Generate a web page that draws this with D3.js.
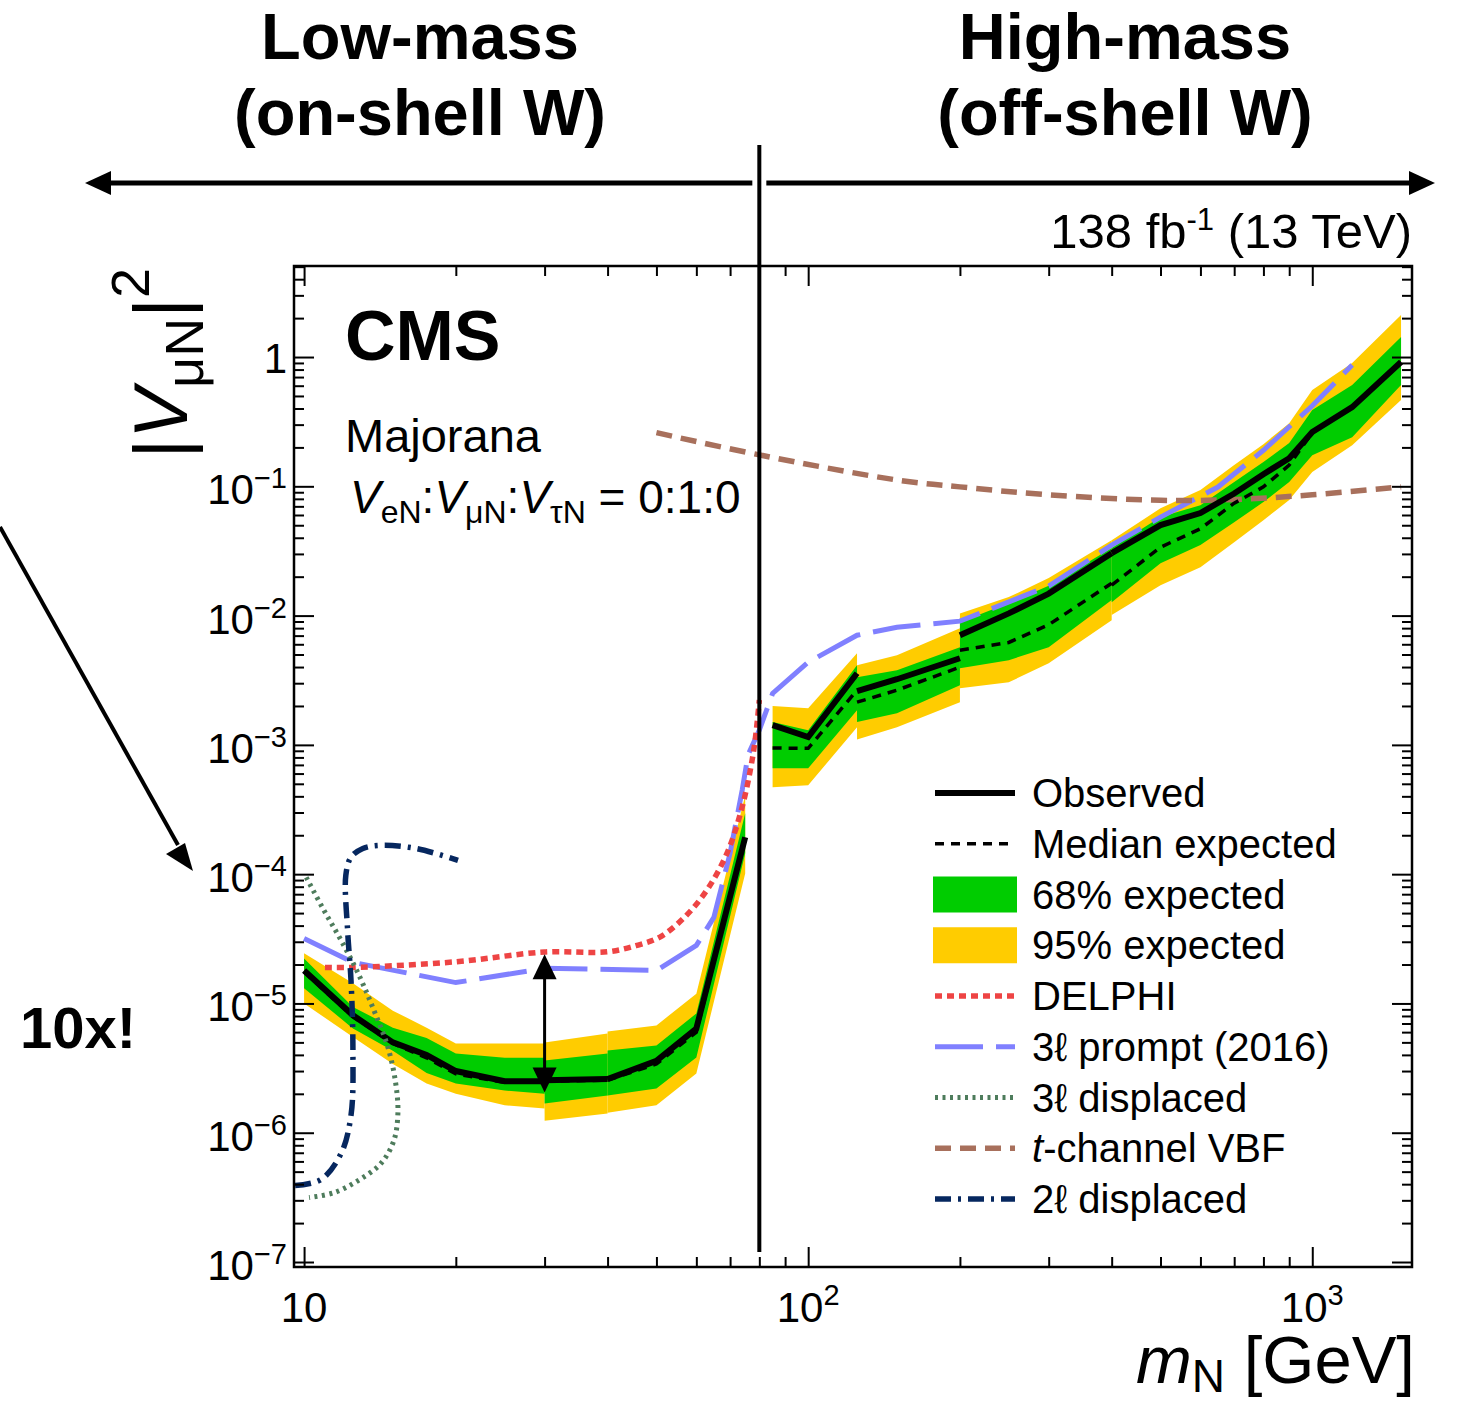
<!DOCTYPE html>
<html>
<head>
<meta charset="utf-8">
<script src="https://cdn.jsdelivr.net/npm/d3@7"></script>
<style>
  body { margin: 0; background: #fff; }
  svg { display: block; font-family: "Liberation Sans", Arial, Helvetica, sans-serif; }
</style>
</head>
<body>
<script>
// mass points of each limit segment (GeV); the bands break where the selection changes
var segMass = [
  [10, 12.5, 15, 17.5, 20, 25, 30],
  [30, 40],
  [40, 50, 60, 75],
  [85, 100, 125],
  [125, 150, 200],
  [200, 250, 300, 400],
  [400, 500, 600, 700, 800, 900, 1000, 1200, 1500]
];
var observed = [
  [1.8e-5, 8.1e-6, 5.0e-6, 4.0e-6, 3.0e-6, 2.5e-6, 2.5e-6],
  [2.55e-6, 2.6e-6],
  [2.6e-6, 3.6e-6, 6.4e-6, 1.93e-4],
  [1.42e-3, 1.15e-3, 3.58e-3],
  [2.6e-3, 3.22e-3, 4.68e-3],
  [7.05e-3, 1.04e-2, 1.48e-2, 3.04e-2],
  [3.04e-2, 5.01e-2, 6.21e-2, 0.088, 0.124, 0.165, 0.263, 0.41, 0.915]
];
var expected = [
  [1.75e-5, 7.9e-6, 4.9e-6, 3.8e-6, 2.85e-6, 2.45e-6, 2.5e-6],
  [2.5e-6, 2.55e-6],
  [2.55e-6, 3.4e-6, 6.0e-6, 1.9e-4],
  [9.46e-4, 9.4e-4, 2.65e-3],
  [2.14e-3, 2.65e-3, 3.99e-3],
  [5.4e-3, 6.2e-3, 8.5e-3, 1.78e-2],
  [1.72e-2, 3.38e-2, 4.7e-2, 0.074, 0.099, 0.146, 0.26, 0.41, 0.915]
];
var band68Hi = [
  [2.23e-5, 9.4e-6, 6.5e-6, 5.4e-6, 4.1e-6, 3.8e-6, 3.8e-6],
  [3.62e-6, 4.1e-6],
  [4.33e-6, 4.73e-6, 8.37e-6, 2.96e-4],
  [1.5e-3, 1.3e-3, 4.13e-3],
  [3.34e-3, 3.78e-3, 5.69e-3],
  [8.9e-3, 1.25e-2, 1.7e-2, 3.33e-2],
  [3.33e-2, 5.78e-2, 7.15e-2, 0.108, 0.154, 0.216, 0.389, 0.607, 1.43]
];
var band68Lo = [
  [1.31e-5, 6.4e-6, 4.3e-6, 2.9e-6, 2.4e-6, 2.12e-6, 2.0e-6],
  [1.68e-6, 1.94e-6],
  [1.94e-6, 2.2e-6, 3.82e-6, 1.45e-4],
  [6.59e-4, 6.59e-4, 1.85e-3],
  [1.5e-3, 1.76e-3, 2.89e-3],
  [3.92e-3, 4.52e-3, 5.69e-3, 1.32e-2],
  [1.27e-2, 2.54e-2, 3.51e-2, 0.0528, 0.0755, 0.108, 0.174, 0.24, 0.607]
];
var band95Hi = [
  [2.44e-5, 1.43e-5, 8.8e-6, 6.5e-6, 4.9e-6, 4.9e-6, 4.9e-6],
  [4.99e-6, 5.86e-6],
  [6.07e-6, 6.76e-6, 1.19e-5, 4.07e-4],
  [2.0e-3, 1.92e-3, 5.12e-3],
  [4.13e-3, 4.93e-3, 7.98e-3],
  [1.04e-2, 1.39e-2, 1.95e-2, 3.83e-2],
  [3.83e-2, 6.78e-2, 9.35e-2, 0.146, 0.212, 0.308, 0.556, 0.899, 2.11]
];
var band95Lo = [
  [1.0e-5, 5.5e-6, 3.4e-6, 2.4e-6, 2.0e-6, 1.63e-6, 1.54e-6],
  [1.24e-6, 1.41e-6],
  [1.43e-6, 1.63e-6, 2.87e-6, 1.01e-4],
  [4.7e-4, 4.87e-4, 1.37e-3],
  [1.1e-3, 1.37e-3, 2.14e-3],
  [2.74e-3, 3.05e-3, 4.28e-3, 9.2e-3],
  [1.01e-2, 1.72e-2, 2.37e-2, 0.037, 0.0547, 0.0782, 0.129, 0.208, 0.465]
];

// other searches
var delphiMass = [11, 12.5, 20, 30, 40, 46, 51, 57, 63, 69, 74, 78, 80];
var delphiVal  = [1.9e-5, 1.9e-5, 2.1e-5, 2.5e-5, 2.51e-5, 2.83e-5, 3.29e-5, 4.69e-5, 7.55e-5, 1.45e-4, 3.33e-4, 9.14e-4, 2.22e-3];
var promptMass = [10, 12.5, 20, 30, 50, 60, 65, 70, 74, 76, 80, 85, 100, 125, 150, 200, 300, 400, 500, 650, 800, 1000, 1200];
var promptVal  = [3.18e-5, 2.08e-5, 1.45e-5, 1.87e-5, 1.8e-5, 2.81e-5, 4.63e-5, 1.45e-4, 4.5e-4, 8.4e-4, 1.3e-3, 2.5e-3, 4.36e-3, 7.05e-3, 8.13e-3, 9.06e-3, 1.69e-2, 3.51e-2, 5.78e-2, 0.0987, 0.19, 0.42, 0.867];
var disp3Mass = [10.1, 10.95, 11.84, 12.8, 13.76, 14.67, 15.2, 15.35, 15.07, 14.2, 12.8, 11.47, 10.23];
var disp3Val  = [9.45e-5, 5.25e-5, 3.08e-5, 1.71e-5, 8.83e-6, 4.56e-6, 2.4e-6, 1.41e-6, 8.7e-7, 5.78e-7, 4.27e-7, 3.44e-7, 3.15e-7];
var vbfMass = [50, 80, 150, 200, 300, 500, 700, 1000, 1500];
var vbfVal  = [0.26, 0.175, 0.112, 0.099, 0.086, 0.078, 0.079, 0.086, 0.099];
var disp2Mass = [9.6, 10.8, 11.84, 12.39, 12.5, 12.39, 12.2, 12.1, 12.39, 13.08, 14.2, 16.67, 20.2];
var disp2Val  = [3.9e-7, 4.34e-7, 6.9e-7, 1.36e-6, 4.33e-6, 1.51e-5, 3.67e-5, 9.8e-5, 1.35e-4, 1.58e-4, 1.67e-4, 1.58e-4, 1.28e-4];

var xMajor = [10, 100, 1000];
var xLabelExp = [null, "2", "3"];
var yMajorExp = [-7, -6, -5, -4, -3, -2, -1, 0];

var W = 1460, H = 1404;
var svg = d3.select("body").append("svg").attr("width", W).attr("height", H);

var x = d3.scaleLog().domain([9.55, 1577]).range([294, 1412]);
var y = d3.scaleLog().domain([9.15e-8, 5.06]).range([1267, 266]);

svg.append("clipPath").attr("id", "frame")
  .append("rect").attr("x", 294).attr("y", 266).attr("width", 1118).attr("height", 1001);

var plot = svg.append("g").attr("clip-path", "url(#frame)");

function pts(ms, vs) { return ms.map(function (m, i) { return {m: m, v: vs[i]}; }); }

function bandData(lo, hi) {
  return segMass.map(function (ms, s) {
    return ms.map(function (m, i) { return {m: m, lo: lo[s][i], hi: hi[s][i]}; });
  });
}

var area = d3.area()
  .x(function (d) { return x(d.m); })
  .y0(function (d) { return y(d.lo); })
  .y1(function (d) { return y(d.hi); });

plot.selectAll("path.b95").data(bandData(band95Lo, band95Hi)).enter().append("path")
  .attr("class", "b95").attr("d", area).attr("fill", "#ffcc00");
plot.selectAll("path.b68").data(bandData(band68Lo, band68Hi)).enter().append("path")
  .attr("class", "b68").attr("d", area).attr("fill", "#00cc00");

var line = d3.line().x(function (d) { return x(d.m); }).y(function (d) { return y(d.v); });
var smooth = d3.line().x(function (d) { return x(d.m); }).y(function (d) { return y(d.v); })
  .curve(d3.curveCatmullRom.alpha(0.5));

var styles = {
  delphi: {stroke: "#ee4444", width: 5.5, dash: "7,5"},
  prompt: {stroke: "#8080ff", width: 5, dash: "48,13"},
  disp3:  {stroke: "#4e7c5c", width: 5, dash: "3,4.5"},
  vbf:    {stroke: "#a8705c", width: 5.5, dash: "16,9"},
  disp2:  {stroke: "#06275f", width: 5.5, dash: "16,7,3,7"},
  obs:    {stroke: "#000", width: 6, dash: null},
  exp:    {stroke: "#000", width: 3.5, dash: "9,7"}
};

function drawLine(gen, data, st) {
  plot.append("path").datum(data).attr("d", gen)
    .attr("fill", "none").attr("stroke", st.stroke).attr("stroke-width", st.width)
    .attr("stroke-dasharray", st.dash);
}

drawLine(line, pts(promptMass, promptVal), styles.prompt);
drawLine(smooth, pts(delphiMass, delphiVal), styles.delphi);
drawLine(smooth, pts(vbfMass, vbfVal), styles.vbf);

segMass.forEach(function (ms, s) {
  drawLine(line, pts(ms, expected[s]), styles.exp);
});
segMass.forEach(function (ms, s) {
  drawLine(line, pts(ms, observed[s]), styles.obs);
});

drawLine(smooth, pts(disp3Mass, disp3Val), styles.disp3);
drawLine(smooth, pts(disp2Mass, disp2Val), styles.disp2);

// double arrow at 30 GeV
var ax = x(30), aTop = y(2.4e-5), aBot = y(2.05e-6);
svg.append("line").attr("x1", ax).attr("x2", ax).attr("y1", aTop + 15).attr("y2", aBot - 15)
  .attr("stroke", "#000").attr("stroke-width", 3);
svg.append("path").attr("d", "M" + ax + "," + aTop + "l-12,25h24z").attr("fill", "#000");
svg.append("path").attr("d", "M" + ax + "," + aBot + "l-12,-25h24z").attr("fill", "#000");

// axes: ticks drawn inside the frame on all four sides
var xMinor = [20, 30, 40, 50, 60, 70, 80, 90, 200, 300, 400, 500, 600, 700, 800, 900];
var yMajor = yMajorExp.map(function (e) { return Math.pow(10, e); });
var yMinor = [];
d3.range(-8, 1).forEach(function (e) {
  for (var k = 2; k <= 9; k++) {
    var v = k * Math.pow(10, e);
    if (v > 9.15e-8 && v < 5.06) yMinor.push(v);
  }
});

function tickAxis(axis, vals, len, tr) {
  var g = svg.append("g").attr("transform", tr)
    .call(axis.tickValues(vals).tickSize(-len).tickFormat(""));
  g.select(".domain").remove();
  g.selectAll(".tick line").attr("stroke", "#000").attr("stroke-width", 2);
}
tickAxis(d3.axisBottom(x), xMinor, 10, "translate(0,1267)");
tickAxis(d3.axisBottom(x), xMajor, 20, "translate(0,1267)");
tickAxis(d3.axisTop(x), xMinor, 10, "translate(0,266)");
tickAxis(d3.axisTop(x), xMajor, 20, "translate(0,266)");
tickAxis(d3.axisLeft(y), yMinor, 10, "translate(294,0)");
tickAxis(d3.axisLeft(y), yMajor, 20, "translate(294,0)");
tickAxis(d3.axisRight(y), yMinor, 10, "translate(1412,0)");
tickAxis(d3.axisRight(y), yMajor, 20, "translate(1412,0)");

svg.append("rect").attr("x", 294).attr("y", 266).attr("width", 1118).attr("height", 1001)
  .attr("fill", "none").attr("stroke", "#000").attr("stroke-width", 2.5);

// tick labels
xMajor.forEach(function (m, i) {
  var t = svg.append("text").attr("x", x(m)).attr("y", 1322)
    .attr("text-anchor", "middle").style("font-size", "42px");
  t.append("tspan").text("10");
  if (xLabelExp[i]) t.append("tspan").attr("dy", -17).style("font-size", "29px").text(xLabelExp[i]);
});
yMajorExp.forEach(function (e) {
  var yy = y(Math.pow(10, e));
  var t = svg.append("text").attr("x", 287).attr("text-anchor", "end").style("font-size", "42px");
  if (e === 0) {
    t.attr("y", yy + 16).text("1");
  } else {
    t.attr("y", yy + 18);
    t.append("tspan").text("10");
    t.append("tspan").attr("dy", -16).style("font-size", "29px").text("\u2212" + (-e));
  }
});

// axis titles
var xt = svg.append("text").attr("x", 1415).attr("y", 1383).attr("text-anchor", "end")
  .style("font-size", "67px");
xt.append("tspan").style("font-style", "italic").text("m");
xt.append("tspan").attr("dy", 9).style("font-size", "46px").text("N");
xt.append("tspan").attr("dy", -9).text(" [GeV]");

var yt = svg.append("text").attr("transform", "translate(187,268) rotate(-90)")
  .attr("text-anchor", "end").style("font-size", "76px");
yt.append("tspan").text("|");
yt.append("tspan").style("font-style", "italic").text("V");
yt.append("tspan").attr("dy", 16).style("font-size", "54px").text("\u03bcN");
yt.append("tspan").attr("dy", -16).text("|");
yt.append("tspan").attr("dy", -38).style("font-size", "54px").text("2");

// in-frame labels
svg.append("text").attr("x", 345).attr("y", 360).style("font-size", "70px")
  .style("font-weight", "bold").text("CMS");
svg.append("text").attr("x", 345).attr("y", 452).style("font-size", "47px").text("Majorana");
var cp = svg.append("text").attr("x", 350).attr("y", 513).style("font-size", "46px");
[["eN", ":"], ["\u03bcN", ":"], ["\u03c4N", " = 0:1:0"]].forEach(function (p) {
  cp.append("tspan").style("font-style", "italic").text("V");
  cp.append("tspan").attr("dy", 10).style("font-size", "32px").text(p[0]);
  cp.append("tspan").attr("dy", -10).text(p[1]);
});

var lumi = svg.append("text").attr("x", 1412).attr("y", 248).attr("text-anchor", "end")
  .style("font-size", "49px");
lumi.append("tspan").text("138 fb");
lumi.append("tspan").attr("dy", -18).style("font-size", "31px").text("-1");
lumi.append("tspan").attr("dy", 18).text(" (13 TeV)");

// legend
var legend = [
  {label: "Observed", st: styles.obs},
  {label: "Median expected", st: styles.exp},
  {label: "68% expected", fill: "#00cc00"},
  {label: "95% expected", fill: "#ffcc00"},
  {label: "DELPHI", st: styles.delphi},
  {label: "3\u2113 prompt (2016)", st: styles.prompt},
  {label: "3\u2113 displaced", st: styles.disp3},
  {label: "t-channel VBF", st: styles.vbf, italicT: true},
  {label: "2\u2113 displaced", st: styles.disp2}
];
legend.forEach(function (d, i) {
  var cy = 793 + i * 50.75;
  if (d.fill) {
    svg.append("rect").attr("x", 933).attr("y", cy - 18).attr("width", 84).attr("height", 36)
      .attr("fill", d.fill);
  } else {
    svg.append("line").attr("x1", 935).attr("x2", 1015).attr("y1", cy).attr("y2", cy)
      .attr("stroke", d.st.stroke).attr("stroke-width", d.st.width)
      .attr("stroke-dasharray", d.st.dash);
  }
  var t = svg.append("text").attr("x", 1032).attr("y", cy + 14).style("font-size", "40px");
  if (d.italicT) {
    t.append("tspan").style("font-style", "italic").text("t");
    t.append("tspan").text(d.label.slice(1));
  } else {
    t.text(d.label);
  }
});

// annotations above the frame
var xW = x(80);
svg.append("line").attr("x1", xW).attr("x2", xW).attr("y1", 145).attr("y2", 1252)
  .attr("stroke", "#000").attr("stroke-width", 4);
svg.append("line").attr("x1", 105).attr("x2", xW - 7).attr("y1", 183).attr("y2", 183)
  .attr("stroke", "#000").attr("stroke-width", 5);
svg.append("line").attr("x1", xW + 7).attr("x2", 1415).attr("y1", 183).attr("y2", 183)
  .attr("stroke", "#000").attr("stroke-width", 5);
svg.append("path").attr("d", "M85,183l26,-12v24z").attr("fill", "#000");
svg.append("path").attr("d", "M1435,183l-26,-12v24z").attr("fill", "#000");

[["Low-mass", "(on-shell W)", 420], ["High-mass", "(off-shell W)", 1125]].forEach(function (a) {
  svg.append("text").attr("x", a[2]).attr("y", 59).attr("text-anchor", "middle")
    .style("font-size", "65px").style("font-weight", "bold").text(a[0]);
  svg.append("text").attr("x", a[2]).attr("y", 135).attr("text-anchor", "middle")
    .style("font-size", "65px").style("font-weight", "bold").text(a[1]);
});

svg.append("line").attr("x1", 0).attr("y1", 527).attr("x2", 178).attr("y2", 845)
  .attr("stroke", "#000").attr("stroke-width", 4);
svg.append("path").attr("d", "M193,871l-27,-17l19,-11z").attr("fill", "#000");
svg.append("text").attr("x", 20).attr("y", 1048).style("font-size", "58px")
  .style("font-weight", "bold").text("10x!");
</script>
</body>
</html>
